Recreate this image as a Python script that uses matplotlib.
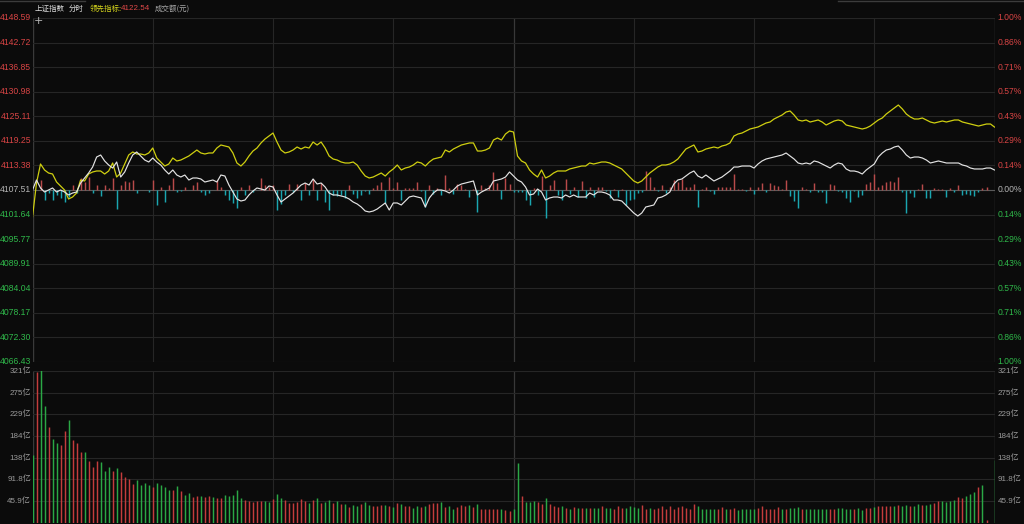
import matplotlib
matplotlib.use("Agg")
import matplotlib.pyplot as plt
from matplotlib.transforms import blended_transform_factory
from matplotlib.lines import Line2D
import numpy as np

# ---------------- data ----------------
pre_close = 4107.51
price_ticks = [4148.59, 4142.72, 4136.85, 4130.98, 4125.11, 4119.25, 4113.38, 4107.51,
               4101.64, 4095.77, 4089.91, 4084.04, 4078.17, 4072.30, 4066.43]
price_labels = ["4148.59", "4142.72", "4136.85", "4130.98", "4125.11", "4119.25", "4113.38", "4107.51",
                "4101.64", "4095.77", "4089.91", "4084.04", "4078.17", "4072.30", "4066.43"]
pct_labels = ["1.00%", "0.86%", "0.71%", "0.57%", "0.43%", "0.29%", "0.14%", "0.00%",
              "0.14%", "0.29%", "0.43%", "0.57%", "0.71%", "0.86%", "1.00%"]
vol_ticks = [321.3, 275.4, 229.5, 183.6, 137.7, 91.8, 45.9]
vol_labels = ["321亿", "275亿", "229亿", "184亿", "138亿", "91.8亿", "45.9亿"]

index_price = [
    4107.51, 4109.90, 4107.99, 4107.03, 4107.51, 4107.99, 4107.03, 4107.51, 4107.03, 4106.32,
    4106.79, 4107.03, 4109.18, 4110.38, 4111.57, 4113.00, 4115.39, 4115.87, 4114.44, 4113.48,
    4112.76, 4114.20, 4110.61, 4111.81, 4113.96, 4115.87, 4116.59, 4115.63, 4114.67, 4114.20,
    4115.15, 4114.20, 4113.48, 4112.29, 4111.33, 4112.29, 4111.09, 4110.61, 4111.09, 4109.90,
    4110.38, 4110.38, 4110.14, 4109.42, 4109.66, 4109.90, 4109.42, 4111.09, 4110.85, 4108.70,
    4107.03, 4105.36, 4104.88, 4105.12, 4106.32, 4107.27, 4107.99, 4107.75, 4107.51, 4108.47,
    4108.23, 4106.32, 4104.64, 4105.36, 4106.08, 4106.79, 4107.75, 4108.70, 4109.18, 4108.70,
    4110.14, 4108.94, 4109.18, 4108.23, 4106.79, 4106.32, 4106.32, 4106.08, 4105.84, 4105.36,
    4104.64, 4104.17, 4103.45, 4102.49, 4102.26, 4102.49, 4102.97, 4103.69, 4104.41, 4102.73,
    4104.41, 4104.41, 4103.93, 4104.88, 4105.84, 4106.08, 4105.84, 4105.60, 4103.45, 4105.60,
    4106.79, 4107.51, 4107.51, 4107.27, 4106.79, 4107.51, 4108.47, 4108.94, 4109.18, 4109.42,
    4109.66, 4106.32, 4107.03, 4107.51, 4107.99, 4109.66, 4109.90, 4110.14, 4110.61, 4111.81,
    4110.85, 4109.90, 4109.42, 4108.23, 4106.32, 4106.55, 4107.75, 4107.03, 4105.12, 4105.60,
    4105.84, 4105.84, 4105.60, 4106.32, 4105.84, 4106.32, 4105.84, 4105.84, 4105.84, 4106.79,
    4106.32, 4107.03, 4107.03, 4106.79, 4106.32, 4105.12, 4105.12, 4104.88, 4103.93, 4102.97,
    4102.02, 4101.30, 4102.02, 4103.45, 4103.69, 4103.93, 4105.60, 4105.84, 4106.32, 4107.03,
    4108.94, 4109.90, 4110.14, 4110.85, 4111.57, 4112.05, 4110.85, 4110.38, 4111.09, 4110.38,
    4109.66, 4110.14, 4110.61, 4111.33, 4112.05, 4113.00, 4113.00, 4113.24, 4113.24, 4113.24,
    4112.76, 4113.72, 4114.44, 4114.91, 4115.15, 4115.39, 4115.63, 4115.87, 4116.35, 4115.63,
    4114.91, 4113.96, 4113.72, 4113.96, 4113.72, 4114.44, 4114.20, 4113.72, 4113.24, 4112.76,
    4113.48, 4113.96, 4113.72, 4112.53, 4112.05, 4112.05, 4111.81, 4111.33, 4112.29, 4113.00,
    4113.72, 4115.39, 4116.35, 4117.06, 4117.30, 4117.78, 4118.02, 4117.06, 4115.87, 4115.15,
    4115.39, 4115.39, 4115.15, 4114.67, 4113.96, 4114.20, 4114.44, 4114.20, 4113.96, 4113.96,
    4113.96, 4113.96, 4113.48, 4113.24, 4112.76, 4112.53, 4112.53, 4112.53, 4112.76, 4112.76,
    4112.29]

lead_price = [
    4101.06, 4109.18, 4113.72, 4112.29, 4111.57, 4111.33, 4109.42, 4108.47, 4107.51, 4105.36,
    4105.84, 4106.79, 4109.90, 4109.66, 4111.33, 4111.81, 4112.05, 4112.05, 4111.33, 4112.05,
    4113.96, 4110.61, 4111.57, 4113.72, 4115.87, 4116.59, 4116.11, 4116.11, 4115.87, 4116.35,
    4117.54, 4115.15, 4114.20, 4113.24, 4113.72, 4115.15, 4114.44, 4114.67, 4115.15, 4115.63,
    4116.35, 4117.06, 4116.35, 4116.11, 4116.35, 4116.35, 4117.54, 4118.26, 4118.02, 4117.78,
    4116.35, 4113.96, 4113.24, 4114.20, 4115.63, 4116.82, 4117.54, 4118.74, 4119.69, 4120.41,
    4121.12, 4118.97, 4117.06, 4116.35, 4116.59, 4117.06, 4117.78, 4117.30, 4117.78, 4117.54,
    4118.97, 4118.26, 4118.97, 4117.54, 4115.63, 4114.91, 4114.67, 4114.20, 4113.96, 4113.96,
    4114.20, 4113.48, 4112.05, 4110.85, 4110.38, 4110.61, 4111.09, 4111.57, 4110.85, 4111.81,
    4112.53, 4113.48, 4112.29, 4112.76, 4113.00, 4113.48, 4114.20, 4113.96, 4113.24, 4114.20,
    4114.91, 4115.15, 4115.39, 4117.06, 4116.59, 4117.30, 4117.78, 4118.26, 4118.50, 4118.74,
    4118.74, 4116.82, 4116.82, 4117.06, 4117.54, 4119.45, 4119.93, 4119.45, 4120.88, 4121.60,
    4121.36, 4115.63, 4114.44, 4113.96, 4112.29, 4111.33, 4110.61, 4112.29, 4110.38, 4110.85,
    4111.57, 4112.05, 4112.05, 4112.05, 4112.53, 4112.76, 4113.00, 4113.24, 4113.24, 4113.96,
    4113.72, 4113.96, 4114.20, 4114.20, 4113.96, 4113.48, 4113.00, 4112.53, 4111.57, 4110.61,
    4109.66, 4109.18, 4109.66, 4110.61, 4111.57, 4112.29, 4113.00, 4113.48, 4113.48, 4113.72,
    4114.20, 4114.91, 4116.11, 4117.30, 4117.78, 4118.26, 4116.59, 4116.82, 4117.30, 4117.54,
    4117.78, 4117.54, 4118.02, 4118.26, 4118.74, 4120.41, 4120.88, 4121.12, 4121.60, 4122.08,
    4122.32, 4122.56, 4123.03, 4123.51, 4123.75, 4124.47, 4124.95, 4125.42, 4126.14, 4126.38,
    4125.42, 4124.23, 4123.99, 4124.23, 4123.75, 4123.99, 4124.23, 4123.75, 4123.03, 4123.51,
    4123.99, 4124.23, 4123.99, 4123.03, 4122.79, 4122.56, 4122.32, 4122.08, 4122.32, 4122.79,
    4123.51, 4124.23, 4124.71, 4125.66, 4126.38, 4127.09, 4127.81, 4126.86, 4125.66, 4124.95,
    4124.47, 4124.47, 4124.71, 4124.23, 4123.75, 4123.51, 4123.75, 4123.99, 4123.75, 4123.99,
    4124.23, 4124.23, 4123.75, 4123.51, 4123.27, 4123.03, 4122.79, 4123.03, 4123.27, 4123.27,
    4122.54]

net_bar = [
    0, 0, 2.4, -2.4, -0.7, -2.4, -1.2, -1.9, -2.9, -1.7,
    1.2, -0.7, 2.9, 1.9, 3.1, -0.7, 1.2, -1.4, 1.2, 0.5,
    2.9, -4.6, 1.2, 2.2, 1.9, 2.4, -0.7, 0, 0, -0.5,
    2.4, -3.6, 0.7, -2.9, 1.2, 2.9, -0.5, -0.2, 0.7, 0,
    1.2, 1.9, -0.5, -1.2, -0.7, 0, 2.4, 0.7, -1.2, -2.4,
    -3.1, -4.3, 0.7, -1.2, 1.2, -0.5, 0, 2.9, 1.2, 0.7,
    1.2, -4.8, -3.4, -1.2, 1.4, -0.5, 1.4, -2.4, 1.7, -1.2,
    2.6, -2.4, 1.7, -2.9, -4.8, -1.2, -1.4, -1.2, -1.9, 1.2,
    -1.0, -1.9, -1.2, -0.2, -1.0, 0.5, 1.2, 1.9, -3.1, 3.1,
    0.5, 1.9, -2.4, 0.5, 0.5, 0.5, 1.9, -0.2, -4.1, 1.2,
    -1.0, 0.5, -1.2, 3.6, 0.5, -1.0, 1.4, 1.2, 0.2, -1.7,
    0.2, -5.3, 1.2, 0.5, 1.2, 4.3, 1.7, -2.2, 2.9, 1.4,
    -0.5, -0.5, -0.5, -2.4, -3.6, 0.5, -1.2, 3.4, -6.7, 1.2,
    2.4, -1.2, -2.4, 2.6, -1.0, 0.7, -1.7, 2.2, -1.9, 0.7,
    -1.7, 0.7, 0.7, -0.2, -1.9, 0.2, -1.7, 0.2, -3.6, -2.4,
    -2.2, -0.7, -0.5, 4.6, 3.1, 0.7, -0.2, 1.2, -0.7, 0.7,
    2.4, 1.9, 2.6, 0.7, 0.7, 1.4, -4.1, 0.2, 0.7, -0.2,
    -1.0, 0.7, 0.7, 0.7, 0.7, 3.8, 0.2, 0.2, -0.2, 0.7,
    -1.0, 0.7, 1.7, -0.5, 1.7, 1.2, 1.0, 0.2, 2.4, -1.4,
    -2.6, -4.3, 0.7, 0.2, -0.5, 1.7, -0.5, -0.5, -3.1, 1.4,
    1.2, -0.2, -0.5, -1.9, -2.9, -0.2, -1.7, -1.2, 1.4, 1.9,
    3.8, 0.7, 1.2, 1.9, 2.2, 1.9, 3.1, -0.5, -5.5, -0.7,
    -1.7, 0.2, 1.4, -1.9, -1.9, 0.5, 0.2, 0.2, -1.7, 0.5,
    -0.5, 1.2, -1.2, -1.0, -1.2, -1.4, -0.5, 0.5, 0.7, 0,
    0]

volume = [
    143, 319, 323, 247, 202, 178, 168, 164, 195, 217,
    175, 168, 149, 149, 130, 118, 130, 128, 110, 117,
    110, 116, 107, 97, 92, 82, 90, 80, 84, 80,
    75, 84, 79, 75, 69, 69, 77, 66, 58, 63,
    54, 56, 56, 54, 56, 54, 52, 52, 58, 56,
    58, 69, 52, 48, 46, 44, 46, 46, 46, 44,
    50, 61, 52, 48, 41, 41, 44, 50, 46, 41,
    48, 52, 41, 44, 48, 41, 46, 39, 39, 33,
    37, 36, 39, 44, 37, 35, 35, 37, 37, 35,
    33, 41, 39, 35, 35, 31, 35, 33, 35, 39,
    41, 41, 44, 33, 35, 29, 33, 37, 35, 37,
    33, 40, 29, 29, 29, 29, 29, 28, 27, 25,
    29, 126, 56, 44, 44, 46, 44, 39, 52, 39,
    35, 34, 35, 31, 29, 33, 31, 31, 31, 31,
    31, 31, 35, 31, 31, 29, 35, 31, 31, 35,
    33, 31, 37, 29, 31, 29, 31, 35, 29, 35,
    29, 33, 35, 31, 29, 39, 35, 29, 28, 28,
    28, 29, 33, 29, 29, 31, 26, 28, 29, 28,
    29, 31, 35, 29, 29, 29, 33, 29, 29, 31,
    31, 33, 29, 29, 29, 29, 29, 29, 29, 28,
    29, 31, 31, 28, 29, 28, 31, 26, 31, 31,
    33, 35, 35, 35, 36, 35, 37, 36, 38, 35,
    35, 40, 37, 37, 40, 42, 46, 46, 44, 46,
    48, 54, 52, 56, 61, 65, 75, 80, 5, 0,
    133]

vol_dir = ("grggrggrrg" "rrrgrrrggg" "rgrrrrgggg" "rggggrgrgg" "rrgrrgrrgg"
           "gggrrrrrgg" "rggrrrrrrg" "rgrggrgrgr" "ggrggrrrgr" "grgrrggrgr"
           "rrgrggrrrg" "rgrrrrrgrr" "ggrgggrrgr" "rrgrgrgrgr" "ggrggrrrgg"
           "ggrrgrrrrr" "rrrrrrgggg" "grrgrrgggg" "grrrrrrgrg" "ggrggggggr"
           "rggggrggrr" "grrrrgrggr" "ggrggrrggg" "grrgggrgrr" "g")

minutes = np.arange(len(index_price))

# ---------------- style ----------------
BG = "#0b0b0b"
GRID = "#262626"
GRID_MID = "#383838"
RED_TXT = "#d84444"
GRN_TXT = "#2fb84a"
GRAY_TXT = "#b4b4b4"
VOL_RED = "#c43c3c"
VOL_GRN = "#2aa845"
BAR_RED = "#b84a4a"
BAR_CYAN = "#1aa6b0"
NUMFONT = ["Liberation Sans", "DejaVu Sans"]

plt.rcParams["font.family"] = ["Noto Sans CJK SC", "DejaVu Sans"]

W, H = 1024, 524
fig = plt.figure(figsize=(W / 100, H / 100), dpi=100, facecolor=BG)

x_left, x_right = 32.5, 995.0
ax1 = fig.add_axes([x_left / W, 1 - 362 / H, (x_right - x_left) / W, (362 - 18) / H])
ax2 = fig.add_axes([x_left / W, 1 - 522.6 / H, (x_right - x_left) / W, (522.6 - 371) / H])

xmax = 240.12
for ax in (ax1, ax2):
    ax.set_facecolor(BG)
    ax.set_xlim(0, xmax)
    ax.set_xticks([])
    ax.set_yticks([])
    for s in ax.spines.values():
        s.set_visible(False)
    for m in range(30, 240, 30):
        ax.axvline(m, color=GRID_MID if m == 120 else GRID, lw=0.9 if m == 120 else 0.8, zorder=0)
    ax.axvline(0, color="#3a3a3a", lw=1.0, zorder=0)
    ax.axvline(xmax, color="#3a3a3a", lw=1.0, zorder=0)

# ---- price panel ----
ax1.set_ylim(price_ticks[-1], price_ticks[0])
for v in price_ticks:
    ax1.axhline(v, color=GRID, lw=0.8, zorder=0)
ax1.axhline(pre_close, color="#5a5a5a", lw=0.8, zorder=1)

bar_colors = [BAR_RED if v > 0 else BAR_CYAN for v in net_bar]
ax1.vlines(minutes, pre_close, pre_close + np.array(net_bar), colors=bar_colors,
           linewidth=1.05, zorder=2)
ax1.plot(minutes, lead_price, color="#cfcf10", lw=0.9, zorder=3)
ax1.plot(minutes, index_price, color="#e4e4e4", lw=0.85, zorder=4)

tl = blended_transform_factory(ax1.transAxes, ax1.transData)
for v, lab, plab in zip(price_ticks, price_labels, pct_labels):
    c = RED_TXT if v > pre_close + 0.01 else (GRN_TXT if v < pre_close - 0.01 else GRAY_TXT)
    ax1.text(-0.0015, v, lab, transform=tl, ha="right", va="center", fontsize=6.2, color=c,
             family=NUMFONT)
    ax1.text(1.0025, v, plab, transform=tl, ha="left", va="center", fontsize=6.2, color=c,
             family=NUMFONT)

# ---- volume panel ----
ax2.set_ylim(0, vol_ticks[0])
for v in vol_ticks:
    ax2.axhline(v, color=GRID, lw=0.8, zorder=0)
vcolors = [VOL_RED if d == "r" else VOL_GRN for d in vol_dir]
ax2.vlines(minutes, 0, volume, colors=vcolors, linewidth=1.05, zorder=2)
tv = blended_transform_factory(ax2.transAxes, ax2.transData)
for v, lab in zip(vol_ticks, vol_labels):
    ax2.text(-0.0015, v, lab, transform=tv, ha="right", va="center", fontsize=5.8, color="#9a9a9a",
             family=["Liberation Sans", "Noto Sans CJK SC"])
    ax2.text(1.0025, v, lab, transform=tv, ha="left", va="center", fontsize=5.8, color="#9a9a9a",
             family=["Liberation Sans", "Noto Sans CJK SC"])

# ---- header ----
hy = 1 - 9 / H
fig.text(35 / W, hy, "上证指数", fontsize=5.4, color="#dcdcdc", va="center")
fig.text(69 / W, hy, "分时", fontsize=5.4, color="#dcdcdc", va="center")
fig.text(90 / W, hy, "领先指标:", fontsize=5.4, color="#d6d61c", va="center")
fig.text(121 / W, hy, "4122.54", fontsize=5.8, color="#e04848", va="center", family=NUMFONT)
fig.text(155 / W, hy, "成交额(元)", fontsize=5.4, color="#a8a8a8", va="center")
fig.text(34 / W, 1 - 21 / H, "+", fontsize=8, color="#bbbbbb", va="center", family=["DejaVu Sans"])

# thin frame pieces at the very top
fig.add_artist(Line2D([0, 85 / W], [1 - 1 / H, 1 - 1 / H], color="#3c3c3c", lw=1.0))
fig.add_artist(Line2D([838 / W, 1], [1 - 1 / H, 1 - 1 / H], color="#3c3c3c", lw=1.0))

fig.savefig("out.png", dpi=100, facecolor=BG)
